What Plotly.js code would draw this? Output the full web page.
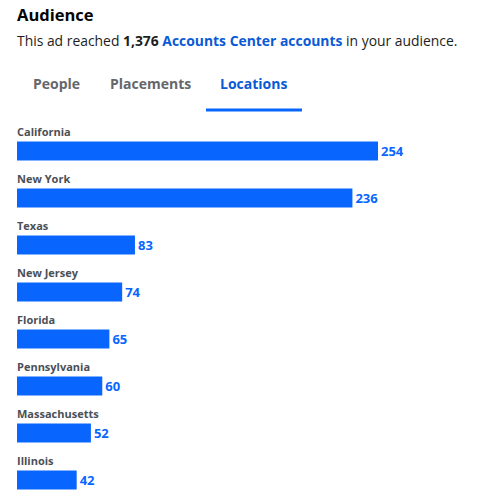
<!DOCTYPE html>
<html>
<head>
<meta charset="utf-8">
<script src="https://cdn.plot.ly/plotly-3.0.1.min.js"></script>
<style>html,body{margin:0;padding:0;background:#fff;}#chart{width:477px;height:500px;}</style>
</head>
<body>
<div id="chart"></div>
<script>
const states = ["California", "New York", "Texas", "New Jersey", "Florida", "Pennsylvania", "Massachusetts", "Illinois"];
const accounts = [254, 236, 83, 74, 65, 60, 52, 42];
const tabs = ["People", "Placements", "Locations"];
const totalReached = "1,376";

const W = 477, H = 500;
const M = {l: 17, r: 10, t: 120, b: 0};
const PW = W - M.l - M.r, PH = H - M.t - M.b;
const px2x = p => (p - M.l) / PW;
const px2y = p => 1 - (p - M.t) / PH;

const FONT = "Open Sans, Noto Sans, sans-serif";
const BLUE = "#0866ff";
const LINK = "#0a5ad6";

const annotations = [];
annotations.push({xref: "paper", yref: "paper", x: px2x(17), y: px2y(14), xanchor: "left", yanchor: "middle", xshift: -2,
  text: "<b>Audience</b>", showarrow: false, font: {family: FONT, size: 16.5, color: "#050505"}});
annotations.push({xref: "paper", yref: "paper", x: px2x(17), y: px2y(41), xanchor: "left", yanchor: "middle", xshift: -2,
  text: "This ad reached <b>" + totalReached + "</b> <b><span style='color:" + LINK + "'>Accounts Center accounts</span></b> in your audience.",
  showarrow: false, font: {family: FONT, size: 13.9, color: "#1c1e21"}});
const tabCenters = [56, 150, 254];
tabs.forEach((t, i) => {
  annotations.push({xref: "paper", yref: "paper", x: px2x(tabCenters[i]), y: px2y(83), xanchor: "center", yanchor: "middle",
    text: "<b>" + t + "</b>", showarrow: false,
    font: {family: FONT, size: 14, color: i === 2 ? LINK : "#65676b"}});
});
states.forEach(s => {
  annotations.push({xref: "x", yref: "y", x: 0, y: s, xanchor: "left", yanchor: "middle", yshift: 20, xshift: -2,
    text: "<b>" + s + "</b>", showarrow: false, font: {family: FONT, size: 11, color: "#4b4f56"}});
});

const data = [{
  type: "bar", orientation: "h", y: states, x: accounts,
  marker: {color: BLUE}, width: 0.4,
  text: accounts.map(String), textposition: "outside", cliponaxis: false,
  textfont: {family: FONT, size: 13, color: BLUE, weight: "bold"},
  hoverinfo: "skip"
}];

const layout = {
  width: W, height: H, margin: M, paper_bgcolor: "#fff", plot_bgcolor: "#fff",
  showlegend: false,
  xaxis: {range: [0, PW / (361 / 254)], visible: false, fixedrange: true},
  yaxis: {type: "category", range: [7.4255, -0.6596], visible: false, fixedrange: true},
  annotations: annotations,
  shapes: [{type: "line", xref: "paper", yref: "paper", x0: px2x(206), x1: px2x(302), y0: px2y(110), y1: px2y(110),
    line: {color: BLUE, width: 3}}],
  font: {family: FONT}
};
Plotly.newPlot("chart", data, layout, {displayModeBar: false, staticPlot: true});
</script>
</body>
</html>
